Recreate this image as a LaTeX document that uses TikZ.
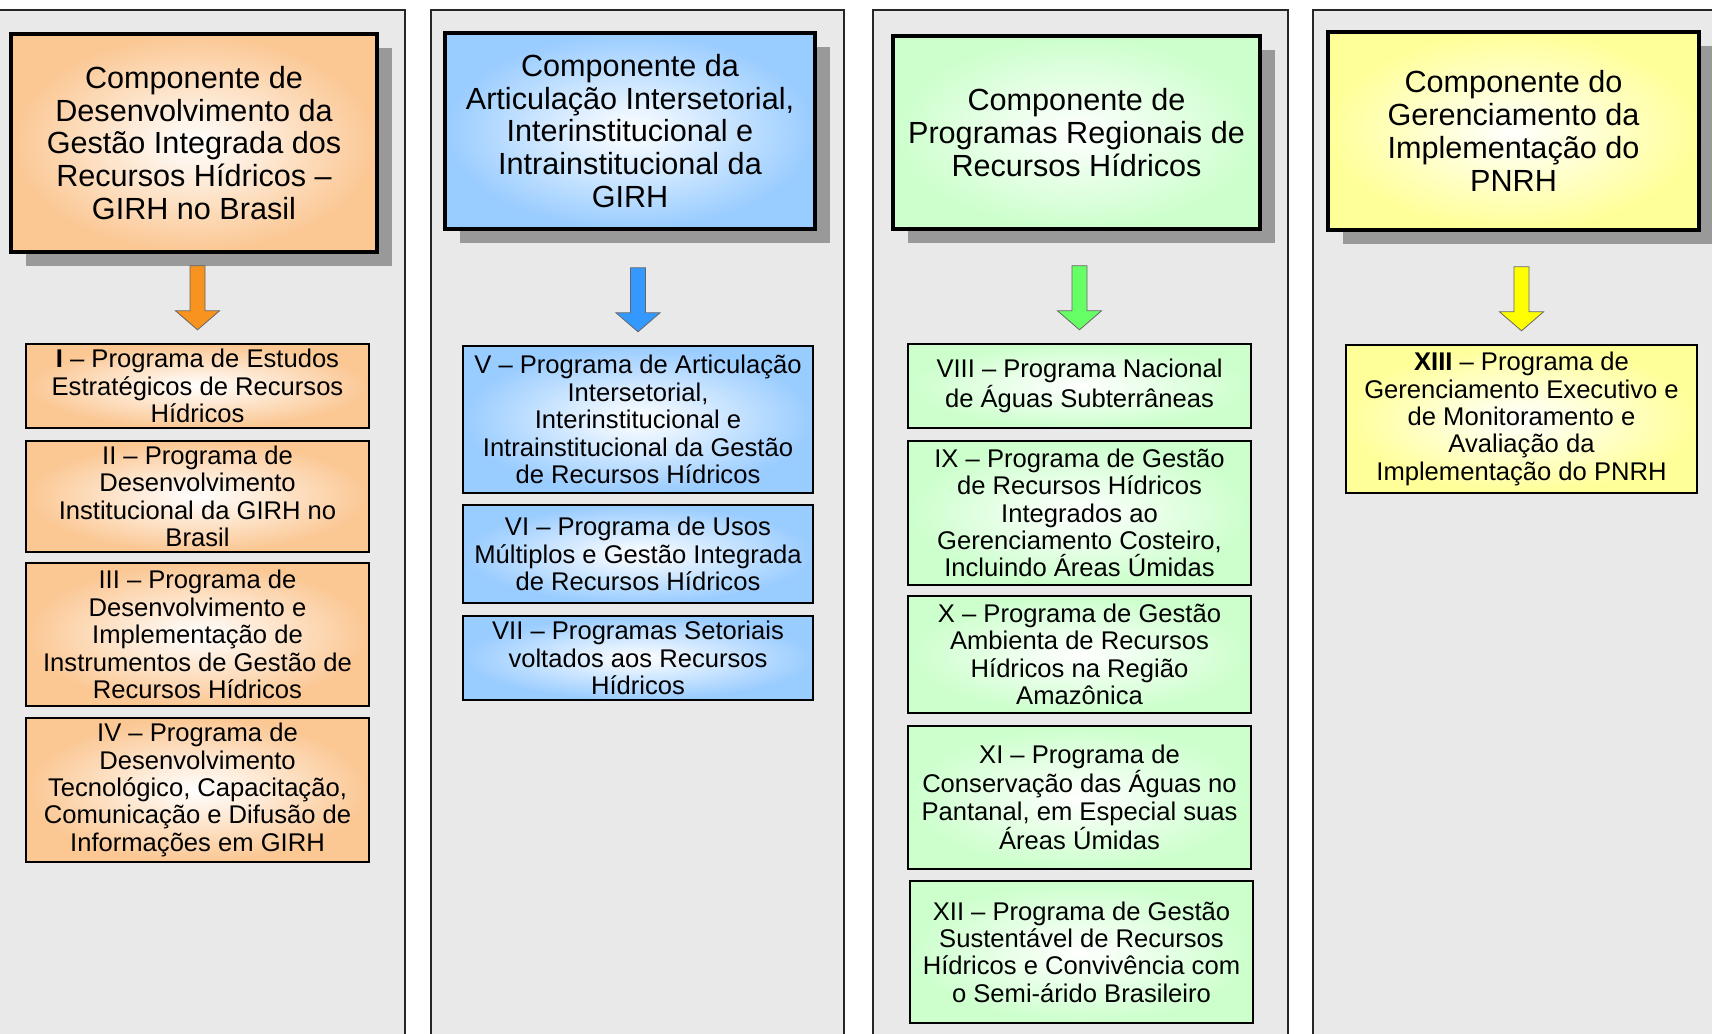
\documentclass[tikz,border=0pt]{standalone}
\usepackage{fontspec}
\setmainfont{Liberation Sans}
\usetikzlibrary{calc,shadows}
\definecolor{panel}{HTML}{E9E9E9}
\definecolor{peach}{HTML}{FBC793}
\definecolor{sky}{HTML}{99CCFF}
\definecolor{mint}{HTML}{CCFFCC}
\definecolor{lemon}{HTML}{FFFF99}
\definecolor{arrorange}{HTML}{F7931E}
\definecolor{arrblue}{HTML}{3399FF}
\definecolor{arrgreen}{HTML}{66FF66}
\definecolor{arryellow}{HTML}{FFFF00}
\tikzset{
  col/.style={fill=panel, draw=black!85, line width=0.8pt},
  hdr/.style={draw=black, line width=2.2pt, shading=radial, inner color=white, outer color=#1,
    drop shadow={shadow xshift=7.5pt, shadow yshift=-7pt, fill=black!40, opacity=1},
    align=center, inner sep=0pt, font=\fontsize{15.3}{16.4}\selectfont},
  prog/.style={draw=black, line width=1.2pt, shading=radial, inner color=white, outer color=#1,
    align=center, inner sep=0pt, font=\fontsize{12.8}{13.7}\selectfont},
  blk/.style={draw=black!60, line width=0.4pt, fill=#1},
  pics/blockarrow/.style={code={
    \draw[blk=#1] (-3.75pt,0pt) -- (3.75pt,0pt) -- (3.75pt,-22.5pt) -- (11pt,-22.5pt)
      -- (0pt,-32pt) -- (-11pt,-22.5pt) -- (-3.75pt,-22.5pt) -- cycle;
  }},
}
\begin{document}
\begin{tikzpicture}[x=0.5pt,y=0.5pt]
  \useasboundingbox (0,0) rectangle (1712,-1033);
  \clip (0,0) rectangle (1712,-1033);

  \draw[col] (-10,-10) rectangle (405,-1045);
  \draw[col] (431,-10) rectangle (844,-1045);
  \draw[col] (873,-10) rectangle (1288,-1045);
  \draw[col] (1313,-10) rectangle (1725,-1045);

  \node[hdr=peach, minimum width=183pt, minimum height=109pt] (h1) at (194,-143)
    {Componente de\\Desenvolvimento da\\Gestão Integrada dos\\Recursos Hídricos –\\GIRH no Brasil};
  \node[hdr=sky, minimum width=185pt, minimum height=98pt] (h2) at (630,-131)
    {Componente da\\Articulação Intersetorial,\\Interinstitucional e\\Intrainstitucional da\\GIRH};
  \node[hdr=mint, minimum width=183.5pt, minimum height=96.5pt] (h3) at (1076.5,-132.5)
    {Componente de\\Programas Regionais de\\Recursos Hídricos};
  \node[hdr=lemon, minimum width=185.5pt, minimum height=99pt] (h4) at (1513.5,-131)
    {Componente do\\Gerenciamento da\\Implementação do\\PNRH};

  \node[prog=peach, minimum width=171.5pt, minimum height=42pt] (p1) at (197.5,-386)
    {\textbf{I} – Programa de Estudos\\Estratégicos de Recursos\\Hídricos};
  \node[prog=peach, minimum width=171.5pt, minimum height=55.5pt] (p2) at (197.5,-496.5)
    {II – Programa de\\Desenvolvimento\\Institucional da GIRH no\\Brasil};
  \node[prog=peach, minimum width=171.5pt, minimum height=71.5pt] (p3) at (197.5,-634.5)
    {III – Programa de\\Desenvolvimento e\\Implementação de\\Instrumentos de Gestão de\\Recursos Hídricos};
  \node[prog=peach, minimum width=171.5pt, minimum height=72pt] (p4) at (197.5,-790)
    {IV – Programa de\\Desenvolvimento\\Tecnológico, Capacitação,\\Comunicação e Difusão de\\Informações em GIRH};

  \node[prog=sky, minimum width=175pt, minimum height=73.5pt] (p5) at (638,-419.5)
    {V – Programa de Articulação\\Intersetorial,\\Interinstitucional e\\Intrainstitucional da Gestão\\de Recursos Hídricos};
  \node[prog=sky, minimum width=175pt, minimum height=49pt] (p6) at (638,-554)
    {VI – Programa de Usos\\Múltiplos e Gestão Integrada\\de Recursos Hídricos};
  \node[prog=sky, minimum width=175pt, minimum height=42pt] (p7) at (638,-658)
    {VII – Programas Setoriais\\voltados aos Recursos\\Hídricos};

  \node[prog=mint, minimum width=171.5pt, minimum height=42pt] (p8) at (1079.5,-386)
    {VIII – Programa Nacional\\de Águas Subterrâneas};
  \node[prog=mint, minimum width=171.5pt, minimum height=72pt] (p9) at (1079.5,-513)
    {IX – Programa de Gestão\\de Recursos Hídricos\\Integrados ao\\Gerenciamento Costeiro,\\Incluindo Áreas Úmidas};
  \node[prog=mint, minimum width=171.5pt, minimum height=58.5pt] (p10) at (1079.5,-654.5)
    {X – Programa de Gestão\\Ambienta de Recursos\\Hídricos na Região\\Amazônica};
  \node[prog=mint, minimum width=171.5pt, minimum height=71.5pt] (p11) at (1079.5,-797.5)
    {XI – Programa de\\Conservação das Águas no\\Pantanal, em Especial suas\\Áreas Úmidas};
  \node[prog=mint, minimum width=171.5pt, minimum height=71pt] (p12) at (1081.5,-952)
    {XII – Programa de Gestão\\Sustentável de Recursos\\Hídricos e Convivência com\\o Semi-árido Brasileiro};

  \node[prog=lemon, minimum width=175.5pt, minimum height=74pt] (p13) at (1521.5,-419)
    {\textbf{XIII} – Programa de\\Gerenciamento Executivo e\\de Monitoramento e\\Avaliação da\\Implementação do PNRH};

  \path (p1.north) ++(0,77) coordinate (a1);
  \path (p5.north) ++(0,77) coordinate (a2);
  \path (p8.north) ++(0,77) coordinate (a3);
  \path (p13.north) ++(0,77) coordinate (a4);
  \pic at (a1) {blockarrow=arrorange};
  \pic at (a2) {blockarrow=arrblue};
  \pic at (a3) {blockarrow=arrgreen};
  \pic at (a4) {blockarrow=arryellow};
\end{tikzpicture}
\end{document}
